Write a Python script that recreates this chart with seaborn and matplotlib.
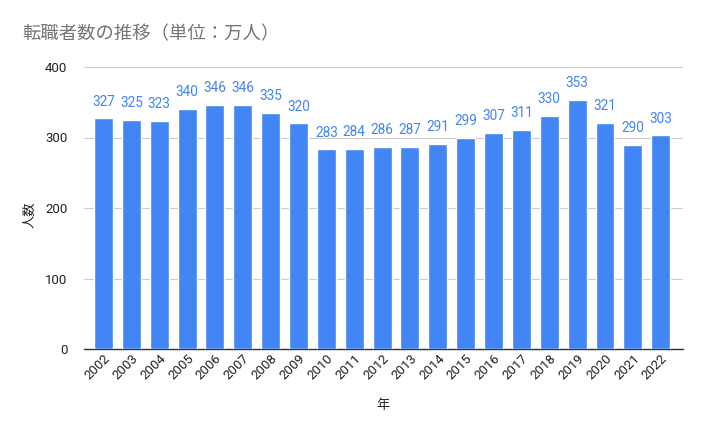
import matplotlib
matplotlib.use("Agg")
import matplotlib.pyplot as plt
import seaborn as sns
import pandas as pd

years = [str(y) for y in range(2002, 2023)]
values = [327, 325, 323, 340, 346, 346, 335, 320, 283, 284, 286, 287, 291, 299, 307, 311, 330, 353, 321, 290, 303]

sns.set_theme(style="white")
plt.rcParams['font.family'] = ['Roboto', 'Noto Sans CJK JP', 'DejaVu Sans']

df = pd.DataFrame({"年": years, "人数": values})

fig = plt.figure(figsize=(7.01, 4.34), dpi=100)
ax = fig.add_axes([84/701, 1-349/434, (683-84)/701, (349-67)/434])
sns.barplot(data=df, x="年", y="人数", color="#4285F4", saturation=1, width=0.68, ax=ax, zorder=3)

for i, v in enumerate(values):
    ax.text(i, v + 14, str(v), ha="center", va="bottom", color="#4285F4", fontsize=9.8)

ax.set_ylim(0, 400)
ax.set_xlim(-0.7, 20.8)
ax.set_yticks([0, 100, 200, 300, 400])
ax.yaxis.grid(True, color="#cccccc", linewidth=0.8, zorder=0)
for s in ["top", "right", "left"]:
    ax.spines[s].set_visible(False)
ax.spines["bottom"].set_color("#333333")
ax.spines["bottom"].set_linewidth(1)
ax.tick_params(axis="y", length=0, labelsize=9.5, colors="#222222", pad=12)
ax.tick_params(axis="x", length=0, labelsize=9.5, colors="#222222", pad=2)
plt.setp(ax.get_xticklabels(), rotation=45, ha="right", rotation_mode="anchor")

ax.set_xlabel("")
ax.set_ylabel("")
fig.text(383/701, 1-405/434, "年", ha="center", va="center", fontsize=9.5, color="#222222",
         family=['Noto Sans CJK JP', 'DejaVu Sans'])
fig.text(30/701, 1-215/434, "人数", ha="center", va="center", rotation=90, fontsize=9.5, color="#222222",
         family=['Noto Sans CJK JP', 'DejaVu Sans'])
fig.text(22/701, 1-34/434, "転職者数の推移（単位：万人）", ha="left", va="center", fontsize=13.2, color="#757575",
         family=['Noto Sans CJK JP', 'DejaVu Sans'])

fig.savefig("out.png", dpi=100)
